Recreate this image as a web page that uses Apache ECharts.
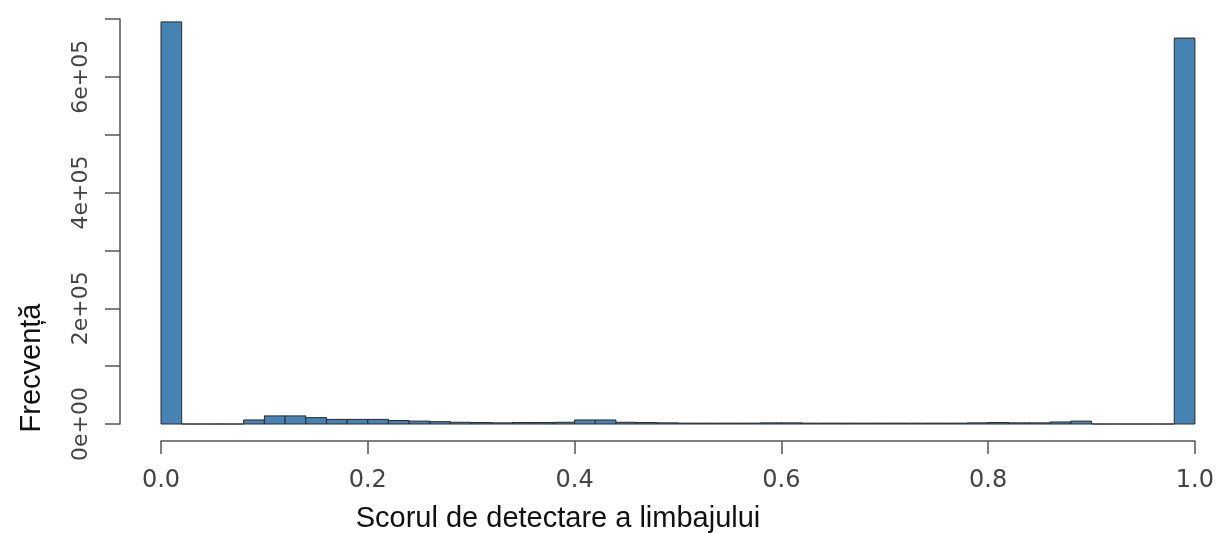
<!DOCTYPE html>
<html>
<head>
<meta charset="utf-8">
<script src="https://cdn.jsdelivr.net/npm/echarts@6/dist/echarts.min.js"></script>
<style>
html,body{margin:0;padding:0;background:#fff;}
#chart{width:1217px;height:533px;}
</style>
</head>
<body>
<div id="chart"></div>
<script>
// Histogram bin starts (width 0.02) and counts
const binWidth = 0.02;
const binStarts = [0.00,0.02,0.04,0.06,0.08,0.10,0.12,0.14,0.16,0.18,
                   0.20,0.22,0.24,0.26,0.28,0.30,0.32,0.34,0.36,0.38,
                   0.40,0.42,0.44,0.46,0.48,0.50,0.52,0.54,0.56,0.58,
                   0.60,0.62,0.64,0.66,0.68,0.70,0.72,0.74,0.76,0.78,
                   0.80,0.82,0.84,0.86,0.88,0.90,0.92,0.94,0.96,0.98];
const counts = [695000,0,0,0,7000,14000,14000,11000,8000,8000,
                8000,6000,5000,4000,3000,2500,2000,2500,2500,3000,
                7000,7000,3000,2500,2000,1500,1500,1500,1500,2000,
                2000,1500,1500,1500,1500,1500,1500,1500,1500,2000,
                2500,2000,2000,3500,5000,0,0,0,0,667000];
const xTicks = [0, 0.2, 0.4, 0.6, 0.8, 1.0];
const yLabelled = [0, 200000, 400000, 600000];
const xTitle = 'Scorul de detectare a limbajului';
const yTitle = 'Frecvență';

const data = binStarts.map((s, i) => [s, +(s + binWidth).toFixed(2), counts[i]]);

const chart = echarts.init(document.getElementById('chart'), null, {renderer: 'canvas'});

chart.setOption({
  animation: false,
  backgroundColor: '#fff',
  grid: {left: 161, right: 20, top: 19, bottom: 109, containLabel: false},
  xAxis: {
    type: 'value', min: 0, max: 1, interval: 0.2,
    offset: 17,
    axisLine: {show: true, onZero: false, lineStyle: {color: '#555', width: 1.5}},
    axisTick: {show: true, length: 13, lineStyle: {color: '#555', width: 1.5}},
    axisLabel: {margin: 28, fontFamily: 'DejaVu Sans', fontSize: 24, color: '#444',
                formatter: v => v.toFixed(1)},
    splitLine: {show: false}
  },
  yAxis: {
    type: 'value', min: 0, max: 700000, interval: 100000,
    offset: 41,
    axisLine: {show: true, onZero: false, lineStyle: {color: '#555', width: 1.5}},
    axisTick: {show: true, length: 15, lineStyle: {color: '#555', width: 1.5}},
    axisLabel: {
      rotate: 90, margin: 28, fontFamily: 'DejaVu Sans', fontSize: 22, color: '#444',
      formatter: v => yLabelled.indexOf(v) >= 0 ? (v === 0 ? '0e+00' : (v / 100000) + 'e+05') : ''
    },
    splitLine: {show: false}
  },
  series: [{
    type: 'custom',
    data: data,
    encode: {x: [0, 1], y: 2},
    renderItem: function (params, api) {
      const x0 = api.value(0), x1 = api.value(1), y = api.value(2);
      const p0 = api.coord([x0, 0]);
      const p1 = api.coord([x1, y]);
      return {
        type: 'rect',
        shape: {x: p0[0], y: p1[1], width: p1[0] - p0[0], height: p0[1] - p1[1]},
        style: {fill: '#4682B4', stroke: '#2a2a2a', lineWidth: 1}
      };
    }
  }],
  graphic: [
    {type: 'text', x: 558, y: 519, style: {text: xTitle, fontFamily: 'Liberation Sans', fontSize: 29, fill: '#111', align: 'center', verticalAlign: 'middle'}},
    {type: 'text', x: 32, y: 368, rotation: Math.PI / 2, style: {text: yTitle, fontFamily: 'Liberation Sans', fontSize: 29, fill: '#111', align: 'center', verticalAlign: 'middle'}}
  ]
});
</script>
</body>
</html>
